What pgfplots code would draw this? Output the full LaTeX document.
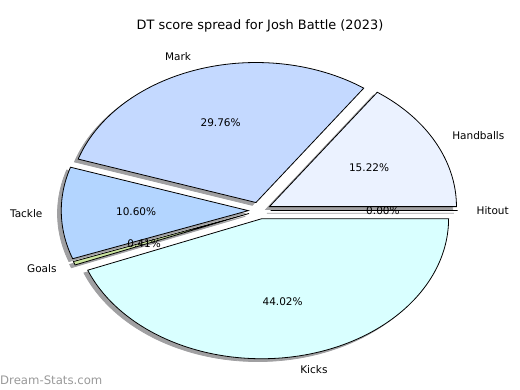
\documentclass[border=0pt]{standalone}
\usepackage{pgfplots}
\usepackage{pgfplotstable}
\pgfplotsset{compat=1.18}
\usepackage{fontspec}
\setmainfont{DejaVu Sans}
\definecolor{cHand}{RGB}{235,242,255}
\definecolor{cMark}{RGB}{196,217,255}
\definecolor{cTack}{RGB}{179,213,255}
\definecolor{cGoal}{RGB}{204,230,160}
\definecolor{cKick}{RGB}{217,255,255}
\definecolor{cHit}{RGB}{200,200,200}
\definecolor{shadowc}{RGB}{160,160,162}
\pgfplotstableread{
label value color
Handballs 15.22 cHand
Mark 29.76 cMark
Tackle 10.60 cTack
Goals 0.41 cGoal
Kicks 44.02 cKick
Hitout 0.00 cHit
}\slices
\newcommand\cx{259.5}
\newcommand\cy{179.5}
\newcommand\rx{187}
\newcommand\ry{140}
\newcommand\expl{0.06}
\begin{document}
\begin{tikzpicture}
\begin{axis}[
  scale only axis, width=520pt, height=390pt,
  xmin=0, xmax=520, ymin=0, ymax=390,
  hide axis, clip=false,
  font=\fontsize{10.5}{12}\selectfont,
]
% shadows
\def\cum{0}
\pgfplotsforeachungrouped \i in {0,...,5}{%
  \pgfplotstablegetelem{\i}{value}\of\slices \let\val\pgfplotsretval
  \pgfmathsetmacro\a{\cum}%
  \pgfmathsetmacro\b{\cum+3.6*\val}%
  \pgfmathsetmacro\m{(\a+\b)/2}%
  \pgfmathsetmacro\ox{\cx+\expl*\rx*cos(\m)-0.02*\rx}%
  \pgfmathsetmacro\oy{\cy+\expl*\ry*sin(\m)-0.02*\ry}%
  \pgfmathsetmacro\exx{\ox+\rx*cos(\m)}%
  \pgfmathsetmacro\eyy{\oy+\ry*sin(\m)}%
  \let\cum\b
  \ifdim\val pt<0.001pt
    \edef\cmd{\noexpand\addplot[draw=shadowc, line width=0.8pt] coordinates {(\ox,\oy) (\exx,\eyy)};}%
  \else
    \edef\cmd{\noexpand\addplot[fill=shadowc, draw=shadowc, line width=0.8pt, domain=\a:\b, samples=120] ({\ox+\rx*cos(x)},{\oy+\ry*sin(x)}) -- (axis cs:\ox,\oy) -- cycle;}%
  \fi
  \cmd
}
% wedges
\def\cum{0}
\pgfplotsforeachungrouped \i in {0,...,5}{%
  \pgfplotstablegetelem{\i}{value}\of\slices \let\val\pgfplotsretval
  \pgfplotstablegetelem{\i}{color}\of\slices \let\col\pgfplotsretval
  \pgfplotstablegetelem{\i}{label}\of\slices \let\lab\pgfplotsretval
  \pgfmathsetmacro\a{\cum}%
  \pgfmathsetmacro\b{\cum+3.6*\val}%
  \pgfmathsetmacro\m{(\a+\b)/2}%
  \pgfmathsetmacro\ox{\cx+\expl*\rx*cos(\m)}%
  \pgfmathsetmacro\oy{\cy+\expl*\ry*sin(\m)}%
  \pgfmathsetmacro\exx{\ox+\rx*cos(\m)}%
  \pgfmathsetmacro\eyy{\oy+\ry*sin(\m)}%
  \pgfmathsetmacro\lx{\ox+1.1*\rx*cos(\m)}%
  \pgfmathsetmacro\ly{\oy+1.1*\ry*sin(\m)}%
  \pgfmathsetmacro\px{\ox+0.6*\rx*cos(\m)}%
  \pgfmathsetmacro\py{\oy+0.6*\ry*sin(\m)}%
  \pgfmathsetmacro\cm{cos(\m)}%
  \ifdim\cm pt<0pt \def\anc{east}\else\def\anc{west}\fi
  \let\cum\b
  \ifdim\val pt<0.001pt
    \edef\cmd{\noexpand\addplot[draw=black, line width=0.8pt] coordinates {(\ox,\oy) (\exx,\eyy)};}%
  \else
    \edef\cmd{\noexpand\addplot[fill=\col, draw=black, line width=0.8pt, domain=\a:\b, samples=120] ({\ox+\rx*cos(x)},{\oy+\ry*sin(x)}) -- (axis cs:\ox,\oy) -- cycle;}%
  \fi
  \cmd
  \edef\cmd{\noexpand\node[anchor=\anc, inner sep=0pt] at (axis cs:\lx,\ly) {\lab};
    \noexpand\node[anchor=center, inner sep=0pt] at (axis cs:\px,\py) {\val\noexpand\%};}%
  \cmd
}
\node[font=\fontsize{12.9}{15}\selectfont, inner sep=0pt] at (axis cs:260,364) {DT score spread for Josh Battle (2023)};
\node[font=\fontsize{11.7}{14}\selectfont, text=black!40, anchor=west, inner sep=0pt] at (axis cs:0,10) {Dream-Stats.com};
\end{axis}
\pgfresetboundingbox
\path (0,0) rectangle (520pt,390pt);
\end{tikzpicture}
\end{document}
